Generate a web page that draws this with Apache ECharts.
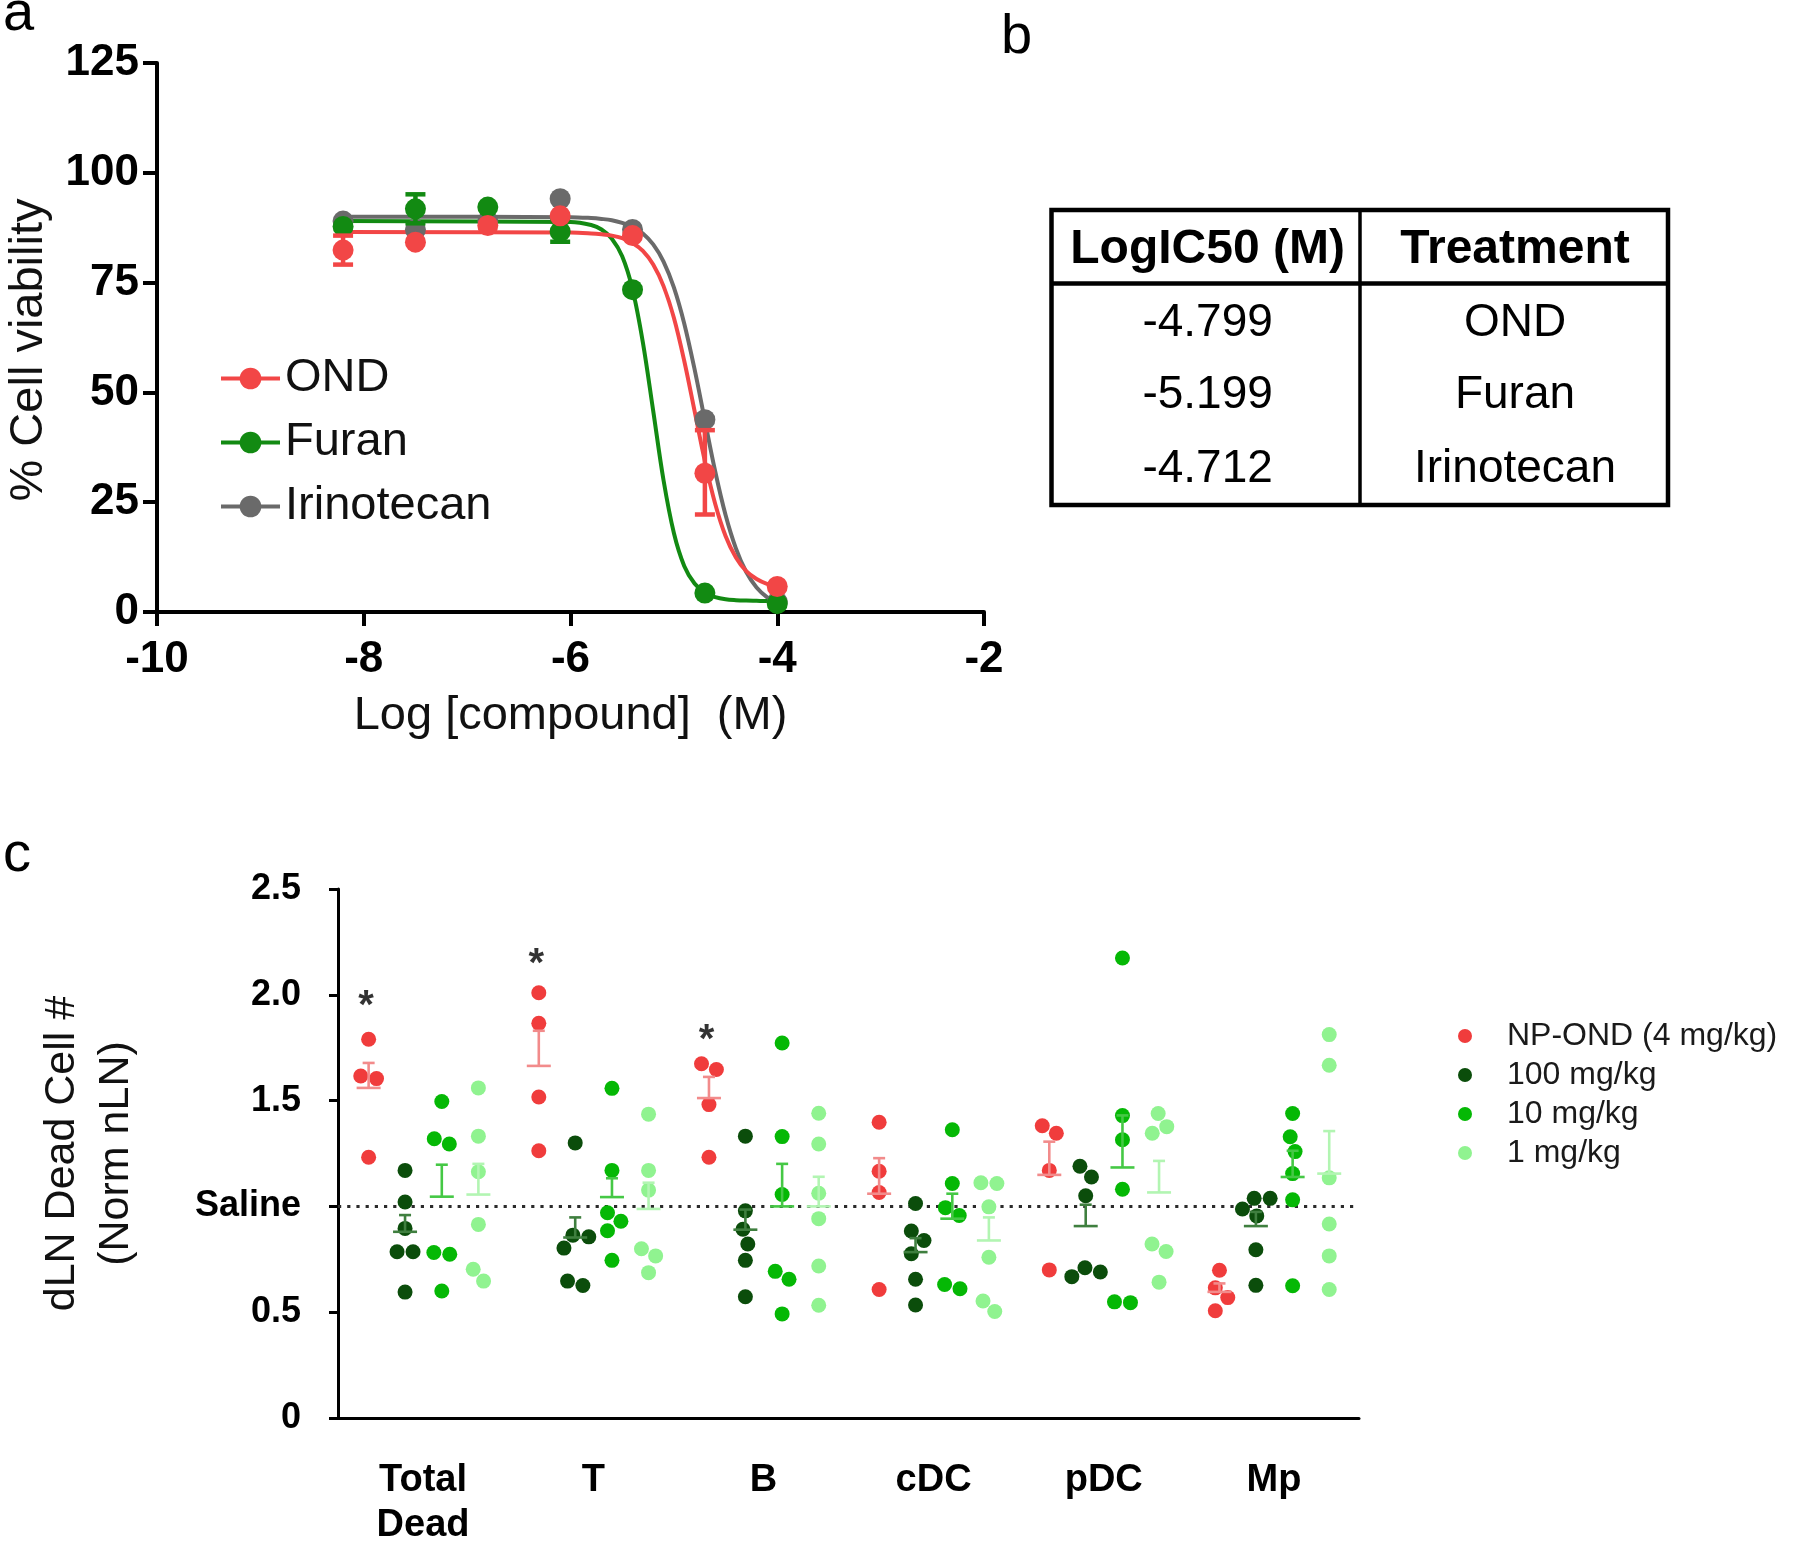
<!DOCTYPE html>
<html>
<head>
<meta charset="utf-8">
<script src="https://cdn.jsdelivr.net/npm/echarts/dist/echarts.min.js"></script>
<style>
html,body{margin:0;padding:0;background:#ffffff;}
#chart{width:1800px;height:1548px;}
</style>
</head>
<body>
<div id="chart"></div>
<script>
// ---------------- Panel a: dose-response data ----------------
const logConc = [-8.2, -7.5, -6.8, -6.1, -5.4, -4.7, -4.0];
const ondViability = [82.4, 84.2, 88.0, 90.2, 85.7, 31.6, 5.8];
const furanViability = [87.8, 91.8, 92.2, 86.6, 73.4, 4.3, 1.9];
const irinoViability = [89.0, 87.1, 89.0, 94.1, 87.1, 43.8, 2.3];
// error bars [low, high] (null = not visible)
const ondErr = [[79.1, 85.7], null, null, null, null, [22.2, 41.4], null];
const furanErr = [null, [88.5, 95.1], null, [84.3, 89.0], null, null, null];
const irinoErr = [null, null, null, null, null, null, null];
// fitted curves
const curveX = [-8.2, -6.0, -5.8, -5.7, -5.6, -5.5, -5.4, -5.3, -5.2, -5.1, -5.0, -4.9, -4.8, -4.7, -4.6, -4.5, -4.4, -4.3, -4.2, -4.1, -4.0];
const curveOND = [86.5, 86.4, 86.2, 86.0, 85.7, 85.1, 84.0, 82.2, 79.1, 74.2, 67.0, 57.2, 45.8, 34.3, 24.6, 17.3, 12.4, 9.3, 7.5, 6.4, 5.8];
const curveFuran = [89.0, 88.8, 88.1, 87.1, 85.0, 81.0, 73.5, 61.4, 45.8, 30.0, 18.0, 10.5, 6.5, 4.4, 3.4, 2.9, 2.7, 2.6, 2.55, 2.5, 2.5];
const curveIrino = [90.0, 89.9, 89.7, 89.5, 89.2, 88.6, 87.7, 86.2, 83.7, 79.8, 73.9, 65.7, 55.3, 43.6, 32.0, 22.1, 14.5, 9.1, 5.6, 3.4, 2.0];
const compoundNames = ['OND', 'Furan', 'Irinotecan'];
const yTicksA = [0, 25, 50, 75, 100, 125];
const titleYA = '% Cell viability';
const titleXA = 'Log [compound]  (M)';

// ---------------- Panel b: table ----------------
const tableHeader = ['LogIC50 (M)', 'Treatment'];
const tableLogIC50 = ['-4.799', '-5.199', '-4.712'];
const tableTreatment = ['OND', 'Furan', 'Irinotecan'];

// ---------------- Panel c: dead cells ----------------
const cellTypes = ['Total\nDead', 'T', 'B', 'cDC', 'pDC', 'Mp'];
const groupNames = ['NP-OND (4 mg/kg)', '100 mg/kg', '10 mg/kg', '1 mg/kg'];
const yTickLabelsC = ['0', '0.5', 'Saline', '1.5', '2.0', '2.5'];
const npOND = [
  [1.79, 1.616, 1.604, 1.232],
  [2.01, 1.865, 1.517, 1.263],
  [1.674, 1.647, 1.481, 1.232],
  [1.398, 1.166, 1.066, 0.607],
  [1.381, 1.346, 1.17, 0.70],
  [0.698, 0.615, 0.569, 0.507]
];
const dose100 = [
  [1.17, 1.021, 0.896, 0.786, 0.786, 0.595],
  [1.30, 0.864, 0.856, 0.803, 0.647, 0.626],
  [1.332, 0.979, 0.892, 0.822, 0.745, 0.573],
  [1.014, 0.884, 0.839, 0.776, 0.656, 0.534],
  [1.19, 1.139, 1.05, 0.71, 0.69, 0.668],
  [1.038, 1.038, 0.988, 0.955, 0.795, 0.627]
];
const dose10 = [
  [1.496, 1.32, 1.295, 0.782, 0.774, 0.60],
  [1.558, 1.17, 0.97, 0.93, 0.885, 0.745],
  [1.772, 1.33, 1.056, 0.693, 0.656, 0.492],
  [1.362, 1.108, 0.994, 0.957, 0.631, 0.611],
  [2.174, 1.429, 1.315, 1.081, 0.549, 0.545],
  [1.439, 1.329, 1.259, 1.155, 1.031, 0.625]
];
const dose1 = [
  [1.56, 1.332, 1.164, 0.915, 0.703, 0.647],
  [1.436, 1.17, 1.077, 0.80, 0.766, 0.687],
  [1.44, 1.295, 1.062, 0.942, 0.718, 0.533],
  [1.112, 1.108, 0.998, 0.76, 0.553, 0.503],
  [1.439, 1.377, 1.346, 0.822, 0.787, 0.642],
  [1.812, 1.667, 1.135, 0.917, 0.766, 0.607]
];
// mean line and top of SEM bar
const meanNpOND = [1.56, 1.664, 1.512, 1.06, 1.149, 0.596];
const semTopNpOND = [1.678, 1.83, 1.612, 1.228, 1.306, 0.636];
const mean100 = [0.88, 0.853, 0.89, 0.784, 0.907, 0.907];
const semTop100 = [0.959, 0.948, 0.985, 0.85, 1.008, 0.974];
const mean10 = [1.046, 1.044, 1.0, 0.942, 1.184, 1.139];
const semTop10 = [1.197, 1.133, 1.201, 1.06, 1.43, 1.263];
const mean1 = [1.056, 0.988, 1.0, 0.839, 1.066, 1.155];
const semTop1 = [1.201, 1.112, 1.14, 0.948, 1.215, 1.356];
const asteriskY = [1.99, 2.19, 1.83, null, null, null];

// ---------------- styling / layout ----------------
const FONT = '"Liberation Sans", Arial, Helvetica, sans-serif';
const colorsA = { 'OND': '#f24646', 'Furan': '#128a12', 'Irinotecan': '#6a6a6a' };
const colorsC = ['#f03c3c', '#0b4d0b', '#05b805', '#90f390'];
const barColorsC = ['#f28b8b', '#3f7f3f', '#45c845', '#b2f5b2'];
const groupOffset = [-0.32, -0.106, 0.11, 0.325];

const gridA = { left: 157, top: 63, width: 827, height: 549 };
const gridC = { left: 338, top: 889, width: 1021, height: 544.4 };
const pxPerCat = gridC.width / cellTypes.length;
const pxPerUnitY = gridC.height / 2.5;

// beeswarm-like horizontal spreading of overlapping dots (in pixels)
function swarmOffsets(vals) {
  const D = 16;
  const order = vals.map((v, i) => i).sort((a, b) => vals[b] - vals[a]);
  const placed = [];
  for (const i of order) {
    const y = vals[i] * pxPerUnitY;
    const cands = [0];
    for (const p of placed) {
      const dy = Math.abs(p.y - y);
      if (dy < D) {
        const dx = Math.sqrt(D * D - dy * dy);
        cands.push(p.x + dx, p.x - dx);
      }
    }
    cands.sort((a, b) => (Math.abs(a) - Math.abs(b)) || (b - a));
    let x = 0;
    for (const c of cands) {
      if (placed.every(p => Math.hypot(p.x - c, p.y - y) >= D - 1e-6)) { x = c; break; }
    }
    placed.push({ i: i, x: x, y: y });
  }
  const n = placed.length;
  const comp = new Array(n).fill(-1);
  let cid = 0;
  for (let a = 0; a < n; a++) {
    if (comp[a] >= 0) continue;
    const stack = [a]; comp[a] = cid;
    while (stack.length) {
      const u = stack.pop();
      for (let b = 0; b < n; b++) {
        if (comp[b] < 0 && Math.abs(placed[u].y - placed[b].y) < D) { comp[b] = cid; stack.push(b); }
      }
    }
    cid++;
  }
  const off = new Array(vals.length).fill(0);
  for (let c = 0; c < cid; c++) {
    const mem = placed.filter((p, k) => comp[k] === c);
    const m = mem.reduce((s, p) => s + p.x, 0) / mem.length;
    mem.forEach(p => { off[p.i] = (p.x - m) / pxPerCat; });
  }
  return off;
}

const groupsC = [npOND, dose100, dose10, dose1];
const meansC = [meanNpOND, mean100, mean10, mean1];
const topsC = [semTopNpOND, semTop100, semTop10, semTop1];

const series = [];

const curveData = { 'OND': curveOND, 'Furan': curveFuran, 'Irinotecan': curveIrino };
const zA = { 'Irinotecan': 2, 'Furan': 3, 'OND': 4 };
compoundNames.forEach(name => {
  series.push({
    name: name, type: 'line', xAxisIndex: 0, yAxisIndex: 0,
    data: curveX.map((x, k) => [x, curveData[name][k]]),
    smooth: 0.35, showSymbol: false, symbol: 'circle', symbolSize: 21,
    lineStyle: { color: colorsA[name], width: 4 },
    itemStyle: { color: colorsA[name] },
    z: zA[name], silent: true
  });
});
const pointData = { 'OND': ondViability, 'Furan': furanViability, 'Irinotecan': irinoViability };
const errData = { 'OND': ondErr, 'Furan': furanErr, 'Irinotecan': irinoErr };
compoundNames.forEach(name => {
  series.push({
    name: name, type: 'scatter', xAxisIndex: 0, yAxisIndex: 0,
    data: logConc.map((x, k) => [x, pointData[name][k]]),
    symbol: 'circle', symbolSize: 21,
    itemStyle: { color: colorsA[name], opacity: 1 },
    z: zA[name] + 4, silent: true
  });
  const ed = [];
  logConc.forEach((x, k) => { if (errData[name][k]) ed.push([x, errData[name][k][0], errData[name][k][1]]); });
  if (ed.length) {
    series.push({
      name: name + ' error', type: 'custom', xAxisIndex: 0, yAxisIndex: 0,
      data: ed, z: zA[name] + 4, silent: true,
      encode: { x: 0, y: [1, 2] },
      renderItem: function (params, api) {
        const lo = api.coord([api.value(0), api.value(1)]);
        const hi = api.coord([api.value(0), api.value(2)]);
        const st = { stroke: colorsA[name], lineWidth: 4.5 };
        return { type: 'group', children: [
          { type: 'line', shape: { x1: lo[0], y1: lo[1], x2: hi[0], y2: hi[1] }, style: st },
          { type: 'line', shape: { x1: lo[0] - 10, y1: lo[1], x2: lo[0] + 10, y2: lo[1] }, style: st },
          { type: 'line', shape: { x1: hi[0] - 10, y1: hi[1], x2: hi[0] + 10, y2: hi[1] }, style: st }
        ]};
      }
    });
  }
});

groupsC.forEach((grp, g) => {
  const data = [];
  grp.forEach((vals, c) => {
    const offs = swarmOffsets(vals);
    vals.forEach((v, k) => data.push([c + groupOffset[g] + offs[k], v]));
  });
  const s = {
    name: groupNames[g], type: 'scatter', xAxisIndex: 2, yAxisIndex: 1,
    data: data, symbol: 'circle', symbolSize: 15,
    itemStyle: { color: colorsC[g], opacity: 1 }, z: 3, silent: true
  };
  if (g === 0) {
    s.markLine = {
      silent: true, symbol: ['none', 'none'], label: { show: false },
      lineStyle: { type: [3.2, 6], width: 3.2, color: '#2b2b2b', cap: 'butt' },
      data: [{ yAxis: 1 }], z: 1
    };
  }
  series.push(s);
});
groupsC.forEach((grp, g) => {
  const col = barColorsC[g];
  series.push({
    name: groupNames[g] + ' SEM', type: 'custom', xAxisIndex: 2, yAxisIndex: 1,
    data: meansC[g].map((m, c) => [c + groupOffset[g], m, topsC[g][c]]),
    encode: { x: 0, y: [1, 2] }, z: 4, silent: true,
    renderItem: function (params, api) {
      const pm = api.coord([api.value(0), api.value(1)]);
      const pt = api.coord([api.value(0), api.value(2)]);
      const st = { stroke: col, lineWidth: 2.6 };
      return { type: 'group', children: [
        { type: 'line', shape: { x1: pm[0] - 12, y1: pm[1], x2: pm[0] + 12, y2: pm[1] }, style: st },
        { type: 'line', shape: { x1: pm[0], y1: pm[1], x2: pt[0], y2: pt[1] }, style: st },
        { type: 'line', shape: { x1: pt[0] - 6, y1: pt[1], x2: pt[0] + 6, y2: pt[1] }, style: st }
      ]};
    }
  });
});
series.push({
  name: 'significance', type: 'scatter', xAxisIndex: 2, yAxisIndex: 1,
  data: asteriskY.map((y, c) => y == null ? null : [c - 0.335, y]).filter(d => d),
  symbol: 'circle', symbolSize: 1, itemStyle: { color: 'rgba(0,0,0,0)' }, z: 5, silent: true,
  label: { show: true, position: 'inside', formatter: '*', fontSize: 40, fontWeight: 'bold', color: '#000', fontFamily: FONT, offset: [0, 10] }
});

// ---------------- graphics: table, titles, letters ----------------
const graphics = [];
const tb = { x1: 1051.5, x2: 1668, y1: 210, y2: 505, xMid: 1360, yHead: 283.5 };
graphics.push({ type: 'rect', shape: { x: tb.x1, y: tb.y1, width: tb.x2 - tb.x1, height: tb.y2 - tb.y1 }, style: { fill: '#fff', stroke: '#000', lineWidth: 4.5 } });
graphics.push({ type: 'line', shape: { x1: tb.xMid, y1: tb.y1, x2: tb.xMid, y2: tb.y2 }, style: { stroke: '#000', lineWidth: 3.5 } });
graphics.push({ type: 'line', shape: { x1: tb.x1, y1: tb.yHead, x2: tb.x2, y2: tb.yHead }, style: { stroke: '#000', lineWidth: 4.5 } });
const colCenters = [1207.6, 1515];
tableHeader.forEach((t, i) => graphics.push({ type: 'text', x: colCenters[i], y: 250,
  style: { text: t, font: 'bold 48px ' + FONT, fill: '#000', textAlign: 'center', textVerticalAlign: 'middle' } }));
const rowY = [323, 395.5, 469];
tableLogIC50.forEach((t, r) => graphics.push({ type: 'text', x: colCenters[0], y: rowY[r],
  style: { text: t, font: '46px ' + FONT, fill: '#000', textAlign: 'center', textVerticalAlign: 'middle' } }));
tableTreatment.forEach((t, r) => graphics.push({ type: 'text', x: colCenters[1], y: rowY[r],
  style: { text: t, font: '46px ' + FONT, fill: '#000', textAlign: 'center', textVerticalAlign: 'middle' } }));
// panel a y-axis title
graphics.push({ type: 'text', x: 29, y: 350, rotation: Math.PI / 2,
  style: { text: titleYA, font: '47px ' + FONT, fill: '#111', textAlign: 'center', textVerticalAlign: 'middle' } });
// panel letters
[['a', 3, 15], ['b', 1001, 38], ['c', 3, 856]].forEach(p => graphics.push({ type: 'text', x: p[1], y: p[2],
  style: { text: p[0], font: '56px ' + FONT, fill: '#000', textAlign: 'left', textVerticalAlign: 'middle' } }));

const axisTextA = { fontSize: 44, fontWeight: 'bold', color: '#000', fontFamily: FONT };

const option = {
  backgroundColor: '#ffffff',
  animation: false,
  textStyle: { fontFamily: FONT },
  grid: [
    Object.assign({ containLabel: false }, gridA),
    Object.assign({ containLabel: false }, gridC)
  ],
  legend: [
    { data: compoundNames, orient: 'vertical', left: 214, top: 350, itemWidth: 59, itemHeight: 27, itemGap: 17,
      selectedMode: false, lineStyle: { width: 4 },
      textStyle: { fontSize: 47, lineHeight: 47, color: '#111', fontFamily: FONT } },
    { data: groupNames, orient: 'vertical', left: 1453, top: 1015, itemWidth: 14, itemHeight: 14, itemGap: 7, icon: 'circle',
      selectedMode: false, textStyle: { fontSize: 32, lineHeight: 32, color: '#1a1a1a', fontFamily: FONT, padding: [0, 0, 0, 30] } }
  ],
  xAxis: [
    { gridIndex: 0, type: 'value', min: -10, max: -2, interval: 2,
      axisLine: { onZero: false, lineStyle: { color: '#000', width: 4 } },
      axisTick: { length: 14, lineStyle: { color: '#000', width: 4 } },
      axisLabel: Object.assign({ margin: 26 }, axisTextA),
      splitLine: { show: false },
      name: titleXA, nameLocation: 'middle', nameGap: 81,
      nameTextStyle: { fontSize: 47, color: '#111', fontFamily: FONT } },
    { gridIndex: 1, type: 'category', data: cellTypes, boundaryGap: true,
      axisLine: { onZero: false, lineStyle: { color: '#000', width: 3 } },
      axisTick: { alignWithLabel: true, length: 9, lineStyle: { color: '#000', width: 3 } },
      axisLabel: { margin: 40, fontSize: 38, fontWeight: 'bold', lineHeight: 45, color: '#000', fontFamily: FONT, interval: 0 },
      splitLine: { show: false } },
    { gridIndex: 1, type: 'value', min: -0.5, max: 5.5, show: false }
  ],
  yAxis: [
    { gridIndex: 0, type: 'value', min: 0, max: 125, interval: 25,
      axisLine: { show: true, onZero: false, lineStyle: { color: '#000', width: 4 } },
      axisTick: { show: true, length: 14, lineStyle: { color: '#000', width: 4 } },
      axisLabel: Object.assign({ margin: 18, formatter: v => String(yTicksA[Math.round(v / 25)]) }, axisTextA),
      splitLine: { show: false } },
    { gridIndex: 1, type: 'value', min: 0, max: 2.5, interval: 0.5,
      axisLine: { show: true, onZero: false, lineStyle: { color: '#000', width: 3 } },
      axisTick: { show: true, length: 9, lineStyle: { color: '#000', width: 3 } },
      axisLabel: { margin: 37, fontSize: 36, fontWeight: 'bold', color: '#000', fontFamily: FONT,
        formatter: v => yTickLabelsC[Math.round(v / 0.5)] },
      splitLine: { show: false },
      name: 'dLN Dead Cell #\n(Norm nLN)', nameLocation: 'middle', nameGap: 195,
      nameTextStyle: { fontSize: 43, lineHeight: 54, color: '#111', fontFamily: FONT } }
  ],
  graphic: graphics,
  series: series
};

const chart = echarts.init(document.getElementById('chart'), null, { renderer: 'canvas' });
chart.setOption(option);
</script>
</body>
</html>
